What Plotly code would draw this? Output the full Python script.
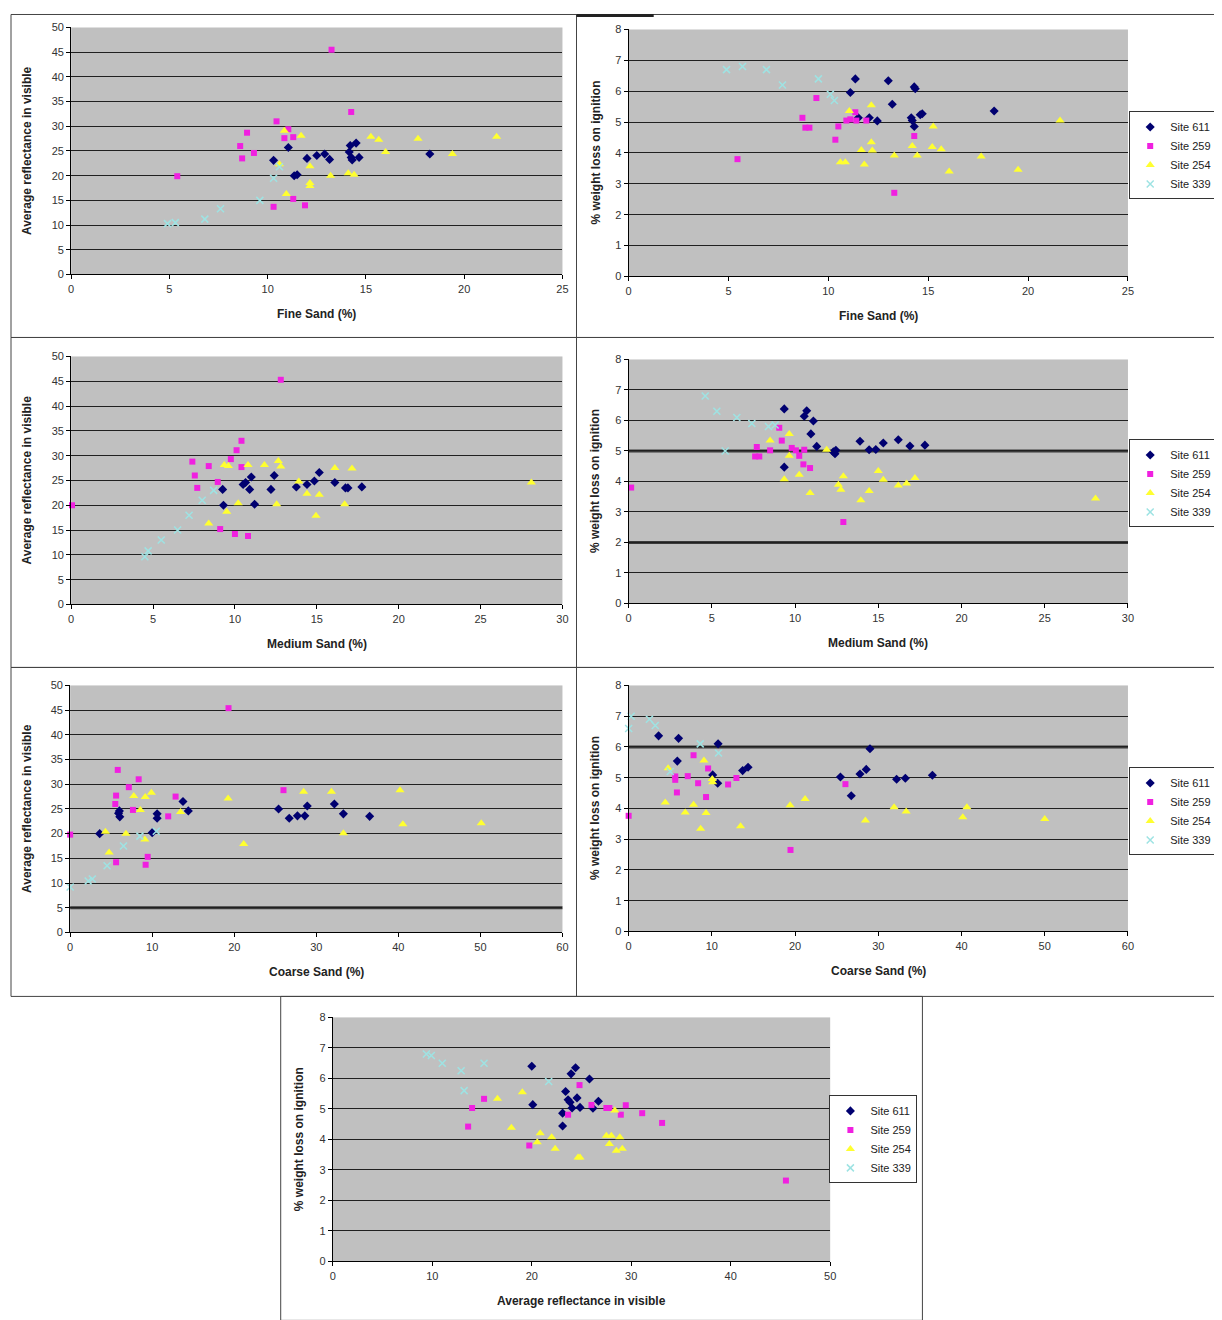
import plotly.graph_objects as go

W, H = 1222, 1320
# measured mapping between figure pixels and the photographed window pixels
SX, OX = 0.99, 11.0
SY, OY = 0.991, 13.5

# ---------------- data ----------------
SITES = ["Site 611", "Site 259", "Site 254", "Site 339"]

# Panel 1: Fine Sand (%) vs Average reflectance in visible
p1_611_x = [10.3, 11.05, 11.35, 11.5, 12.0, 12.5, 12.9, 13.15, 14.15, 14.2, 14.25, 14.3, 14.5, 14.65, 18.25]
p1_611_y = [23.1, 25.7, 20.0, 20.2, 23.5, 24.1, 24.4, 23.3, 24.8, 26.1, 23.7, 23.2, 26.6, 23.7, 24.4]
p1_259_x = [13.25, 14.25, 10.45, 8.95, 11.05, 10.85, 11.3, 8.6, 9.3, 8.7, 5.4, 11.3, 10.3, 11.9]
p1_259_y = [45.5, 32.9, 31.0, 28.7, 29.4, 27.6, 27.8, 26.0, 24.6, 23.5, 19.9, 15.3, 13.7, 14.0]
p1_254_x = [10.85, 11.7, 15.25, 15.65, 17.65, 21.65, 16.0, 19.4, 10.6, 12.15, 13.2, 14.1, 14.4, 12.15, 12.15, 10.95]
p1_254_y = [29.1, 28.1, 27.9, 27.3, 27.5, 27.9, 24.8, 24.4, 22.3, 21.9, 20.0, 20.5, 20.2, 18.5, 17.9, 16.3]
p1_339_x = [4.9, 5.3, 6.8, 7.6, 9.6, 10.3, 10.6]
p1_339_y = [10.3, 10.5, 11.2, 13.3, 15.0, 19.5, 21.8]

# Panel 2: Fine Sand (%) vs % weight loss on ignition
p2_611_x = [11.35, 11.1, 13.0, 14.3, 14.35, 13.2, 11.5, 12.05, 12.45, 14.15, 14.2, 14.3, 14.6, 14.7, 18.3]
p2_611_y = [6.4, 5.96, 6.34, 6.14, 6.08, 5.58, 5.14, 5.14, 5.04, 5.14, 5.05, 4.86, 5.24, 5.27, 5.36]
p2_259_x = [9.4, 8.7, 8.85, 9.05, 10.5, 10.35, 10.9, 11.1, 11.35, 11.4, 11.9, 14.3, 5.45, 13.3]
p2_259_y = [5.78, 5.14, 4.82, 4.82, 4.86, 4.43, 5.05, 5.09, 5.32, 5.05, 5.05, 4.55, 3.8, 2.71]
p2_254_x = [11.05, 12.15, 21.6, 15.25, 12.15, 12.2, 11.65, 14.2, 15.2, 15.65, 13.3, 14.45, 17.65, 10.6, 10.85, 11.8, 16.05, 19.5]
p2_254_y = [5.36, 5.55, 5.05, 4.86, 4.35, 4.08, 4.1, 4.23, 4.19, 4.12, 3.92, 3.92, 3.89, 3.7, 3.7, 3.63, 3.4, 3.46]
p2_339_x = [4.9, 5.7, 6.9, 7.7, 9.5, 10.1, 10.3]
p2_339_y = [6.7, 6.8, 6.7, 6.2, 6.4, 5.9, 5.7]

# Panel 3: Medium Sand (%) vs Average reflectance in visible
p3_611_x = [9.25, 9.3, 10.5, 10.65, 10.9, 11.0, 11.2, 12.2, 12.4, 13.75, 14.4, 14.85, 15.15, 16.1, 16.75, 16.9, 17.75]
p3_611_y = [23.2, 20.0, 24.2, 24.6, 23.2, 25.7, 20.2, 23.2, 26.0, 23.7, 24.2, 24.9, 26.6, 24.6, 23.5, 23.5, 23.7]
p3_259_x = [12.8, 10.4, 10.1, 9.75, 7.4, 8.4, 10.4, 7.55, 7.7, 8.95, 0.05, 9.1, 10.0, 10.8]
p3_259_y = [45.3, 33.0, 31.1, 29.3, 28.8, 27.9, 27.7, 26.0, 23.5, 24.7, 20.0, 15.2, 14.2, 13.8]
p3_254_x = [9.35, 9.6, 10.8, 11.8, 12.65, 12.8, 16.1, 17.15, 13.9, 14.4, 15.15, 10.2, 12.55, 16.7, 9.5, 8.4, 14.95, 28.1]
p3_254_y = [28.1, 27.9, 28.1, 28.1, 28.9, 27.8, 27.5, 27.4, 24.8, 22.3, 22.1, 20.4, 20.2, 20.2, 18.7, 16.3, 17.9, 24.6]
p3_339_x = [4.5, 4.7, 5.5, 6.5, 7.2, 8.0, 8.7]
p3_339_y = [9.6, 10.8, 13.0, 15.0, 18.0, 21.0, 23.0]

# Panel 4: Medium Sand (%) vs % weight loss on ignition
p4_611_x = [9.35, 10.7, 10.55, 11.1, 10.95, 11.3, 9.35, 12.3, 12.4, 13.9, 14.45, 14.85, 15.3, 16.2, 16.9, 17.8, 12.45]
p4_611_y = [6.38, 6.32, 6.14, 5.98, 5.56, 5.15, 4.47, 4.97, 4.91, 5.32, 5.04, 5.05, 5.26, 5.37, 5.16, 5.19, 5.02]
p4_259_x = [9.05, 9.2, 7.7, 7.6, 7.85, 8.5, 9.8, 10.05, 10.25, 10.55, 10.5, 10.9, 0.15, 12.9]
p4_259_y = [5.76, 5.34, 5.13, 4.82, 4.82, 5.02, 5.1, 5.02, 4.84, 5.04, 4.56, 4.44, 3.8, 2.67]
p4_254_x = [9.65, 8.5, 9.65, 11.9, 10.25, 9.35, 12.9, 12.6, 12.75, 10.9, 15.0, 15.3, 14.45, 13.95, 16.2, 16.7, 17.2, 28.05]
p4_254_y = [5.56, 5.34, 4.84, 5.04, 4.22, 4.07, 4.17, 3.89, 3.73, 3.62, 4.34, 4.06, 3.69, 3.38, 3.87, 3.93, 4.11, 3.44]
p4_339_x = [4.6, 5.3, 6.5, 7.4, 8.4, 8.8, 5.8]
p4_339_y = [6.8, 6.3, 6.1, 5.9, 5.8, 5.85, 5.0]

# Panel 5: Coarse Sand (%) vs Average reflectance in visible
p5_611_x = [3.6, 6.0, 6.05, 5.9, 10.0, 10.6, 10.6, 13.75, 14.4, 25.4, 26.7, 27.7, 28.6, 28.9, 32.2, 33.3, 36.5]
p5_611_y = [20.0, 24.6, 23.4, 24.1, 20.2, 24.0, 23.1, 26.5, 24.6, 25.0, 23.1, 23.6, 23.6, 25.6, 26.0, 24.0, 23.5]
p5_259_x = [19.3, 5.8, 8.35, 7.15, 5.6, 5.5, 7.65, 12.85, 11.95, 26.0, 0.0, 9.45, 5.6, 9.2]
p5_259_y = [45.4, 32.9, 31.0, 29.4, 27.7, 26.0, 24.8, 27.5, 23.5, 28.8, 19.8, 15.3, 14.2, 13.7]
p5_254_x = [7.75, 9.15, 9.9, 8.55, 13.45, 19.25, 28.45, 31.85, 40.2, 40.55, 50.1, 33.3, 4.3, 6.8, 9.1, 21.15, 4.75]
p5_254_y = [27.6, 27.4, 28.3, 24.8, 24.4, 27.1, 28.5, 28.5, 28.8, 21.9, 22.1, 20.1, 20.4, 20.0, 18.8, 17.9, 16.2]
p5_339_x = [0.0, 2.2, 2.7, 4.5, 6.5, 8.5, 10.5]
p5_339_y = [9.2, 10.4, 10.8, 13.5, 17.5, 19.5, 20.5]

# Panel 6: Coarse Sand (%) vs % weight loss on ignition
p6_611_x = [3.6, 6.0, 10.75, 29.0, 5.85, 14.35, 13.7, 10.1, 10.7, 25.45, 27.8, 28.55, 32.2, 33.25, 36.5, 26.75]
p6_611_y = [6.36, 6.28, 6.1, 5.94, 5.54, 5.34, 5.23, 5.09, 4.82, 5.02, 5.12, 5.27, 4.95, 4.98, 5.08, 4.41]
p6_259_x = [7.8, 9.55, 5.6, 5.6, 7.1, 8.35, 11.95, 12.95, 9.3, 5.8, 26.05, 0.0, 19.45]
p6_259_y = [5.73, 5.3, 5.04, 4.93, 5.05, 4.82, 4.78, 4.99, 4.37, 4.52, 4.79, 3.76, 2.65]
p6_254_x = [4.75, 9.05, 10.05, 10.1, 4.4, 7.8, 6.8, 9.3, 8.65, 13.45, 19.4, 21.2, 28.45, 31.9, 33.35, 40.15, 40.65, 50.0]
p6_254_y = [5.31, 5.56, 4.96, 4.85, 4.19, 4.12, 3.87, 3.85, 3.34, 3.42, 4.1, 4.31, 3.61, 4.04, 3.9, 3.71, 4.04, 3.66]
p6_339_x = [0.0, 0.3, 2.5, 3.2, 8.6, 10.8, 5.0]
p6_339_y = [6.6, 7.0, 6.9, 6.7, 6.1, 5.8, 5.2]

# Panel 7: Average reflectance in visible vs % weight loss on ignition
p7_611_x = [20.0, 24.4, 23.95, 25.8, 23.4, 24.55, 23.65, 23.85, 26.7, 20.1, 24.85, 24.05, 26.15, 23.1, 23.1]
p7_611_y = [6.4, 6.35, 6.15, 5.98, 5.57, 5.36, 5.3, 5.22, 5.25, 5.14, 5.05, 5.03, 5.02, 4.86, 4.44]
p7_259_x = [24.8, 15.2, 14.0, 13.6, 19.75, 23.65, 26.0, 27.5, 28.95, 29.45, 31.1, 33.1, 45.55, 27.8]
p7_259_y = [5.78, 5.33, 5.03, 4.42, 3.8, 4.81, 5.13, 5.03, 4.81, 5.12, 4.86, 4.54, 2.65, 5.03]
p7_254_x = [19.05, 16.55, 17.95, 20.85, 20.55, 22.0, 22.35, 24.85, 27.5, 28.0, 27.8, 28.85, 28.5, 29.1, 28.35, 24.65]
p7_254_y = [5.55, 5.33, 4.38, 4.2, 3.91, 4.07, 3.69, 3.41, 4.12, 4.12, 3.85, 4.07, 3.63, 3.69, 4.95, 3.41]
p7_339_x = [9.4, 9.9, 12.9, 15.2, 13.2, 21.7, 11.0]
p7_339_y = [6.8, 6.75, 6.25, 6.5, 5.6, 5.9, 6.5]

REFL_TITLE = "Average reflectance in visible"
LOI_TITLE = "% weight loss on ignition"

# ---------------- styling ----------------
FONT = "Liberation Sans, Arial, sans-serif"
STYLE = {
    "Site 611": dict(symbol="diamond", color="#000070", size=7),
    "Site 259": dict(symbol="square", color="#F020E0", size=6),
    "Site 254": dict(symbol="triangle-up", color="#FFFF30", size=8),
    "Site 339": dict(symbol="x-thin", color="#9EE3E3", size=7, line=dict(color="#9EE3E3", width=1.5)),
}


def px(s):
    """window pixel x -> paper fraction"""
    return ((s - OX) / SX) / W


def py(s):
    """window pixel y -> paper fraction"""
    return 1 - ((s - OY) / SY) / H


panels = [
    dict(data=[(p1_611_x, p1_611_y), (p1_259_x, p1_259_y), (p1_254_x, p1_254_y), (p1_339_x, p1_339_y)],
         xr=[0, 25], xd=5, yr=[0, 50], yd=5, box=(71, 27, 561, 274), xt="Fine Sand (%)", yt=REFL_TITLE,
         ytoff=44, legend=None),
    dict(data=[(p2_611_x, p2_611_y), (p2_259_x, p2_259_y), (p2_254_x, p2_254_y), (p2_339_x, p2_339_y)],
         xr=[0, 25], xd=5, yr=[0, 8], yd=1, box=(627, 29, 1125, 276), xt="Fine Sand (%)", yt=LOI_TITLE,
         ytoff=33, legend=("legend", 1214, 111)),
    dict(data=[(p3_611_x, p3_611_y), (p3_259_x, p3_259_y), (p3_254_x, p3_254_y), (p3_339_x, p3_339_y)],
         xr=[0, 30], xd=5, yr=[0, 50], yd=5, box=(71, 356, 561, 604), xt="Medium Sand (%)", yt=REFL_TITLE,
         ytoff=44, legend=None),
    dict(data=[(p4_611_x, p4_611_y), (p4_259_x, p4_259_y), (p4_254_x, p4_254_y), (p4_339_x, p4_339_y)],
         xr=[0, 30], xd=5, yr=[0, 8], yd=1, box=(627, 359, 1125, 603), xt="Medium Sand (%)", yt=LOI_TITLE,
         ytoff=33, legend=("legend2", 1214, 439)),
    dict(data=[(p5_611_x, p5_611_y), (p5_259_x, p5_259_y), (p5_254_x, p5_254_y), (p5_339_x, p5_339_y)],
         xr=[0, 60], xd=10, yr=[0, 50], yd=5, box=(70, 685, 561, 932), xt="Coarse Sand (%)", yt=REFL_TITLE,
         ytoff=43, legend=None),
    dict(data=[(p6_611_x, p6_611_y), (p6_259_x, p6_259_y), (p6_254_x, p6_254_y), (p6_339_x, p6_339_y)],
         xr=[0, 60], xd=10, yr=[0, 8], yd=1, box=(627, 685, 1125, 931), xt="Coarse Sand (%)", yt=LOI_TITLE,
         ytoff=33, legend=("legend3", 1214, 767)),
    dict(data=[(p7_611_x, p7_611_y), (p7_259_x, p7_259_y), (p7_254_x, p7_254_y), (p7_339_x, p7_339_y)],
         xr=[0, 50], xd=10, yr=[0, 8], yd=1, box=(332, 1017, 828, 1261), xt=REFL_TITLE, yt=LOI_TITLE,
         ytoff=33, legend=("legend4", 915, 1095)),
]

# heavier (scanned) grid lines: (panel index, y value)
heavy_grid = [(4, 5), (4, 2), (5, 5), (6, 6)]

fig = go.Figure()
layout = dict(
    width=W, height=H, autosize=False,
    margin=dict(l=0, r=0, t=0, b=0),
    paper_bgcolor="white", plot_bgcolor="#C0C0C0",
    font=dict(family=FONT, size=11, color="#333"),
    shapes=[], annotations=[],
)

axis_common = dict(
    showline=True, linecolor="black", linewidth=1, mirror=False,
    ticks="outside", ticklen=4, tickcolor="black", tickwidth=1,
    tickfont=dict(family=FONT, size=11, color="#333"),
    zeroline=False, fixedrange=True,
)

for i, p in enumerate(panels, start=1):
    sfx = "" if i == 1 else str(i)
    xa, ya = "x" + sfx, "y" + sfx
    l, t, r, b = p["box"]
    layout["xaxis" + sfx] = dict(
        axis_common, domain=[px(l), px(r)], range=p["xr"], dtick=p["xd"], tick0=0,
        showgrid=False, anchor=ya,
    )
    layout["yaxis" + sfx] = dict(
        axis_common, domain=[py(b), py(t)], range=p["yr"], dtick=p["yd"], tick0=0,
        showgrid=True, gridcolor="#202020", gridwidth=1, anchor=xa,
    )
    for name, (xs, ys) in zip(SITES, p["data"]):
        st = STYLE[name]
        marker = dict(symbol=st["symbol"], color=st["color"], size=st["size"],
                      line=st.get("line", dict(width=0)))
        tr = dict(x=xs, y=ys, mode="markers", name=name, marker=marker,
                  xaxis=xa, yaxis=ya, cliponaxis=False, hoverinfo="x+y+name")
        if p["legend"]:
            tr["legend"] = p["legend"][0]
            tr["showlegend"] = True
        else:
            tr["showlegend"] = False
        fig.add_trace(go.Scatter(**tr))
    layout["annotations"].append(dict(
        text="<b>%s</b>" % p["xt"], xref="paper", yref="paper",
        x=px((l + r) / 2), y=py(b + 40), xanchor="center", yanchor="middle",
        showarrow=False, font=dict(family=FONT, size=12, color="#222"),
    ))
    layout["annotations"].append(dict(
        text="<b>%s</b>" % p["yt"], xref="paper", yref="paper",
        x=px(l - p["ytoff"]), y=py((t + b) / 2), xanchor="center", yanchor="middle",
        textangle=-90, showarrow=False, font=dict(family=FONT, size=12, color="#222"),
    ))
    if p["legend"]:
        key, lx, ly = p["legend"]
        layout[key] = dict(
            x=px(lx), y=py(ly), xanchor="right", yanchor="top", xref="paper", yref="paper",
            bgcolor="white", bordercolor="#333", borderwidth=1,
            font=dict(family=FONT, size=11, color="#222"), itemwidth=30,
            tracegroupgap=0,
        )

for idx, yv in heavy_grid:
    sfx = "" if idx == 1 else str(idx)
    layout["shapes"].append(dict(
        type="line", xref="x%s domain" % sfx, yref="y" + sfx, x0=0, x1=1, y0=yv, y1=yv,
        line=dict(color="#3a3a3a", width=3), layer="below",
    ))

# outer chart frames (window pixel coords)
frames = [(11, 14, 575, 337), (575, 14, 1215, 337), (11, 337, 575, 667), (575, 337, 1215, 667),
          (11, 667, 575, 996), (575, 667, 1215, 996), (280, 996, 920, 1320)]
for (l, t, r, b) in frames:
    layout["shapes"].append(dict(
        type="rect", xref="paper", yref="paper", x0=px(l), x1=max(0, min(1, px(r))),
        y0=max(0, py(b)), y1=min(1, py(t)),
        line=dict(color="#444", width=1), fillcolor="rgba(0,0,0,0)", layer="above",
    ))
layout["shapes"].append(dict(
    type="line", xref="paper", yref="paper", x0=px(575), x1=px(652), y0=py(15), y1=py(15),
    line=dict(color="#222", width=3),
))

fig.update_layout(**layout)
fig.write_html("out.html", config=dict(displayModeBar=False))
